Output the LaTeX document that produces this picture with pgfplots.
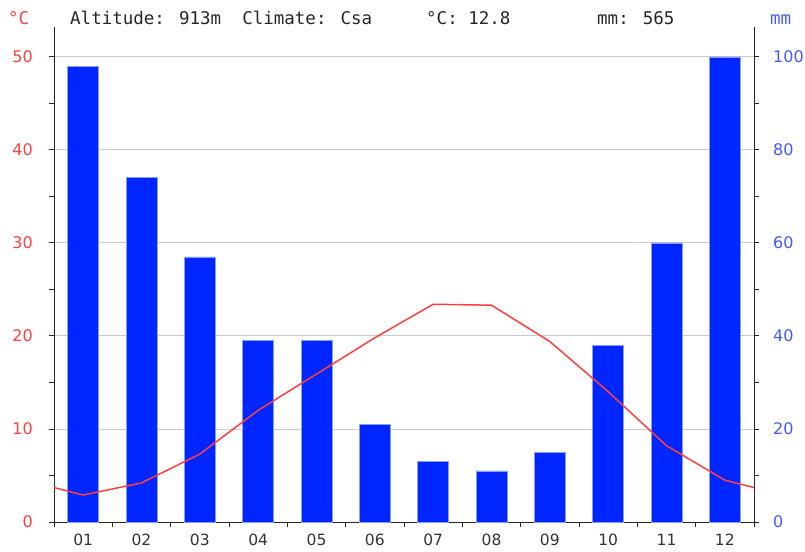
\documentclass[border=0pt]{standalone}
\usepackage{fontspec}
\setmainfont{DejaVu Sans}
\newfontfamily\monofont{DejaVu Sans Mono}
\usepackage{pgfplots}
\pgfplotsset{compat=1.18}

\definecolor{tred}{HTML}{FF3F3F}
\definecolor{pblue}{HTML}{0026FF}
\definecolor{edgeblue}{HTML}{8A9BFF}
\definecolor{lblue}{HTML}{4458FF}
\definecolor{gridc}{HTML}{CCCCCC}

\pgfplotsset{
  climbase/.style={
    scale only axis, width=700pt, height=495pt,
    at={(0pt,0pt)}, anchor=south west,
    xmin=0.5, xmax=12.5,
    tick label style={font=\fontsize{16}{18}\selectfont, inner sep=0pt},
    /pgf/number format/assume math mode=true,
    axis line style={draw=black!85, line width=0.9pt},
    every tick/.style={draw=black!85, line width=0.9pt},
    tick align=outside,
    major tick length=5pt, minor tick length=5pt,
  }
}

\begin{document}
\begin{tikzpicture}
% precipitation (mm), right axis, with the grid
\begin{axis}[climbase,
  axis y line*=right, axis x line*=bottom,
  ymin=0, ymax=106.4,
  ytick={0,20,...,100}, minor ytick={10,30,...,90},
  ymajorgrids, grid style={gridc, line width=0.9pt},
  yticklabel style={text=lblue, anchor=west, xshift=14pt},
  xtick={1,...,12},
  xticklabels={01,02,03,04,05,06,07,08,09,10,11,12},
  minor xtick={0.5,1.5,...,12.5},
  major x tick style={draw=none},
  xticklabel style={anchor=north, yshift=-7pt, text=black!80,
    font=\fontsize{15.5}{18}\selectfont},
]
\addplot[ybar, bar width=31pt, fill=pblue, draw=edgeblue, line width=0.5pt] coordinates {
  (1,98) (2,74) (3,57) (4,39) (5,39) (6,21)
  (7,13) (8,11) (9,15) (10,38) (11,60) (12,100)
};
\end{axis}
% temperature (C), left axis
\begin{axis}[climbase,
  axis y line*=left, axis x line=none,
  ymin=0, ymax=53.2,
  ytick={0,10,...,50}, minor ytick={5,15,...,45},
  yticklabel style={text=tred, anchor=east, xshift=-16pt},
]
\addplot[tred, line width=1.5pt, mark=none] coordinates {
  (0.5,3.7) (1,2.9) (2,4.2) (3,7.3) (4,12.0) (5,15.9) (6,19.8)
  (7,23.4) (8,23.3) (9,19.4) (10,14.0) (11,8.2) (12,4.5) (12.5,3.7)
};
\end{axis}
\begin{scope}[every node/.style={inner sep=0pt, anchor=base west,
    font=\monofont\fontsize{17.5}{20}\selectfont}]
  \node[text=tred] at (-46pt,497pt) {°C};
  \node[text=black!85] at (16pt,497pt) {Altitude: 913m\ \ Climate: Csa};
  \node[text=black!85] at (372pt,497pt) {°C: 12.8};
  \node[text=black!85] at (543pt,497pt) {mm: 565};
  \node[text=lblue] at (716pt,497pt) {mm};
\end{scope}
\pgfresetboundingbox
\path[use as bounding box] (-54pt,-29pt) rectangle (751pt,522pt);
\end{tikzpicture}
\end{document}
